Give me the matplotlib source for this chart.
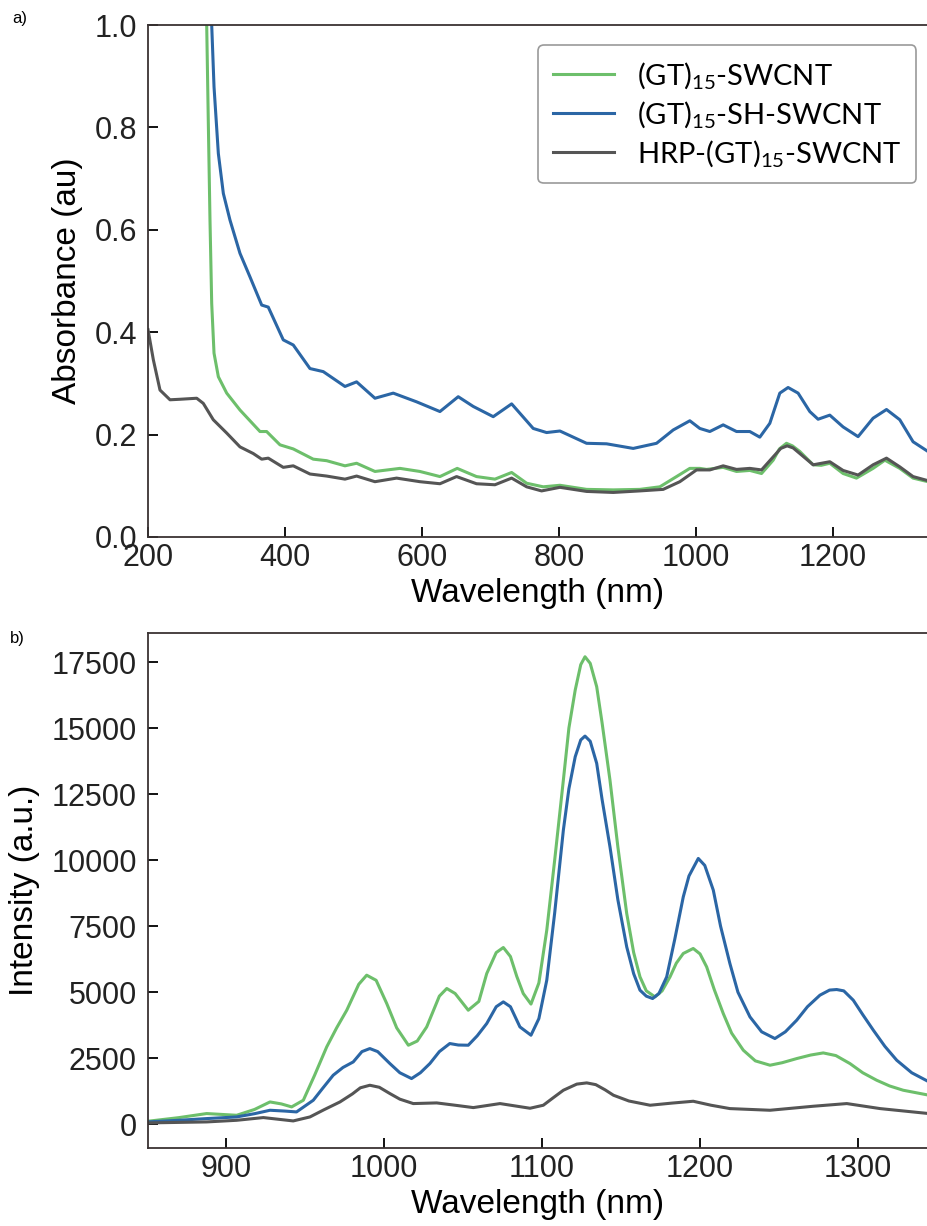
import matplotlib
matplotlib.use("Agg")
import matplotlib.pyplot as plt

plt.rcParams['font.family'] = ['Liberation Sans', 'DejaVu Sans']
plt.rcParams['mathtext.default'] = 'regular'

# ---- panel a: absorbance spectra (wavelength nm, absorbance au) ----
a_wl_green = [284, 285.7, 288, 290.5, 293, 296.4, 302.7, 314.9, 334.3, 363.5, 373.2, 392.7,
              412.1, 441.3, 460.9, 487.6, 504.6, 531.4, 567.9, 597, 626.3, 651.5, 679.7,
              706.6, 731, 752.9, 777.1, 801.5, 840.4, 879.3, 918.2, 947.4, 971.8, 991.2,
              1005.8, 1015.6, 1039.9, 1059.4, 1078.8, 1095.9, 1112.9, 1122, 1132.3, 1141,
              1151.8, 1171.3, 1183, 1195.6, 1215, 1234.5, 1258.8, 1276, 1297.8, 1317.2, 1339]
a_abs_green = [1.1, 1.0, 0.814, 0.619, 0.456, 0.359, 0.313, 0.281, 0.248, 0.206, 0.206, 0.180,
               0.172, 0.152, 0.149, 0.139, 0.144, 0.128, 0.134, 0.128, 0.118, 0.134, 0.118,
               0.113, 0.126, 0.105, 0.098, 0.101, 0.093, 0.092, 0.093, 0.098, 0.118, 0.134,
               0.134, 0.132, 0.136, 0.128, 0.130, 0.124, 0.150, 0.172, 0.183, 0.178,
               0.167, 0.141, 0.140, 0.144, 0.124, 0.115, 0.134, 0.150, 0.134, 0.115, 0.108]

a_wl_blue = [291, 293, 296.4, 302.7, 310, 319.7, 334.3, 348.9, 366, 375.6, 397.5, 412.1,
             436.5, 455.9, 487.6, 504.6, 531.4, 558.1, 592.2, 626.3, 653, 674.9, 704.1,
             731, 762.5, 782, 801.5, 840.4, 869.6, 908.5, 942.6, 966.9, 991.2, 1005.8,
             1020.4, 1039.9, 1059.4, 1078.8, 1093.4, 1108, 1122.6, 1134.7, 1149.3, 1166.4,
             1178.5, 1195.6, 1215, 1236.9, 1258.8, 1278.4, 1297.8, 1317.2, 1339]
a_abs_blue = [1.1, 1.0, 0.879, 0.749, 0.671, 0.619, 0.554, 0.508, 0.453, 0.449, 0.385, 0.375,
              0.329, 0.323, 0.294, 0.303, 0.271, 0.281, 0.264, 0.245, 0.274, 0.255, 0.235,
              0.260, 0.212, 0.204, 0.207, 0.183, 0.182, 0.173, 0.183, 0.209, 0.227, 0.212,
              0.206, 0.219, 0.206, 0.206, 0.195, 0.222, 0.281, 0.292, 0.281, 0.245,
              0.230, 0.238, 0.215, 0.196, 0.232, 0.249, 0.229, 0.186, 0.167]

a_wl_gray = [200, 207.8, 217.5, 232.1, 246.7, 271.1, 280.7, 295.3, 314.9, 334.3, 353.7, 366,
             375.6, 397.5, 412.1, 436.5, 460.9, 487.6, 504.6, 531.4, 563, 597.1, 626.3,
             650.6, 679.7, 706.6, 731, 752.9, 774.7, 801.5, 840.4, 879.3, 918.2, 952.3,
             976.6, 1001, 1020.4, 1039.9, 1059.4, 1078.8, 1095.9, 1115.3, 1124, 1133.3, 1142,
             1151.8, 1171.3, 1195.6, 1215, 1236.9, 1258.8, 1278.4, 1297.8, 1317.2, 1339]
a_abs_gray = [0.405, 0.346, 0.287, 0.268, 0.269, 0.271, 0.261, 0.229, 0.203, 0.176, 0.163, 0.152,
              0.154, 0.136, 0.139, 0.123, 0.119, 0.113, 0.119, 0.108, 0.115, 0.108, 0.104,
              0.118, 0.104, 0.102, 0.115, 0.098, 0.090, 0.097, 0.089, 0.087, 0.090, 0.093,
              0.108, 0.131, 0.131, 0.139, 0.132, 0.134, 0.131, 0.160, 0.173, 0.178, 0.174,
              0.163, 0.141, 0.147, 0.130, 0.121, 0.141, 0.154, 0.137, 0.118, 0.110]

# ---- panel b: emission spectra (wavelength nm, intensity a.u.) ----
b_wl_green = [850, 870, 887.7, 906.7, 918, 927.8, 935, 941.5, 948.9, 956, 963.7, 970, 976.4,
              984, 989, 995, 1001.7, 1008, 1015.4, 1021, 1027, 1035, 1039.7, 1045, 1053.3,
              1060, 1065, 1071, 1075.5, 1080, 1084, 1088.1, 1093, 1098, 1103, 1108, 1113.5,
              1117, 1121, 1124.5, 1127.2, 1130.5, 1134.6, 1138, 1143, 1148, 1153.6, 1158,
              1162, 1166, 1171.5, 1176, 1181, 1185, 1189.4, 1195.7, 1200, 1204.2, 1209,
              1214.7, 1220, 1227.4, 1235, 1244.3, 1252, 1261.2, 1270, 1278, 1286, 1294.9,
              1303, 1311.8, 1320, 1328.6, 1345]
b_int_green = [110, 250, 405, 340, 560, 845, 770, 657, 909, 1850, 2928, 3650, 4318,
               5300, 5644, 5450, 4571, 3650, 2992, 3150, 3686, 4850, 5140, 4950, 4318,
               4650, 5707, 6500, 6692, 6350, 5600, 4950, 4550, 5350, 7349, 10000, 13031,
               15000, 16440, 17400, 17700, 17450, 16565, 15200, 13031, 10500, 7980, 6500,
               5580, 5050, 4823, 5050, 5580, 6100, 6466, 6655, 6450, 5958, 5100,
               4193, 3450, 2803, 2400, 2235, 2330, 2487, 2620, 2701, 2600, 2298,
               1950, 1667, 1450, 1288, 1099]

b_wl_blue = [850, 870, 887.7, 906.7, 918, 927.8, 937, 944.6, 955.2, 961, 967.8, 974, 980.5,
             986, 991, 996, 1003.7, 1010, 1017.4, 1023, 1029, 1035, 1041.6, 1047, 1053.3,
             1059, 1065, 1071, 1075.5, 1080, 1086, 1093, 1098, 1103, 1108, 1113.5, 1117,
             1121, 1124.5, 1127.2, 1130.5, 1134.6, 1138, 1143, 1148, 1153.6, 1158, 1162,
             1166, 1170, 1174, 1178.9, 1184, 1189.4, 1193, 1198.9, 1203, 1208.4, 1213,
             1218.9, 1224, 1231.6, 1239, 1247.4, 1254, 1261.2, 1268, 1275.9, 1282, 1286.5,
             1291, 1297, 1303, 1309.7, 1317, 1324.5, 1334, 1345]
b_int_blue = [88, 150, 215, 277, 400, 530, 500, 467, 909, 1350, 1856, 2150, 2360,
              2750, 2866, 2750, 2298, 1950, 1730, 1950, 2298, 2750, 3056, 3000, 2992,
              3350, 3814, 4450, 4633, 4450, 3686, 3371, 4000, 5455, 8000, 11137, 12700,
              13914, 14550, 14697, 14500, 13664, 12300, 10504, 8500, 6716, 5700, 5076,
              4850, 4760, 4950, 5580, 7000, 8610, 9400, 10064, 9800, 8864, 7500,
              6087, 5000, 4066, 3500, 3245, 3500, 3940, 4450, 4887, 5080, 5101,
              5050, 4697, 4150, 3561, 2950, 2424, 1950, 1603]

b_wl_gray = [850, 887.7, 906.7, 923.6, 942.5, 953.1, 962, 972.1, 980, 985, 991, 997, 1003.7,
             1010, 1018.5, 1033.3, 1045, 1056.5, 1073.4, 1092.4, 1100.8, 1107, 1113.5, 1122,
             1128.3, 1134, 1140, 1145.2, 1155, 1168.4, 1182, 1195.7, 1207, 1218.9, 1244.3,
             1271.7, 1292.9, 1314, 1345]
b_int_gray = [50, 88, 150, 253, 126, 277, 550, 845, 1150, 1380, 1477, 1400, 1162,
              950, 783, 808, 720, 631, 783, 606, 720, 1000, 1288, 1520,
              1566, 1500, 1300, 1099, 880, 720, 800, 871, 720, 593, 530,
              682, 783, 593, 404]

labels = ['(GT)$_{15}$-SWCNT', '(GT)$_{15}$-SH-SWCNT', 'HRP-(GT)$_{15}$-SWCNT']
c_green = '#6dbf6b'
c_blue = '#2b66a5'
c_gray = '#555555'
spine_c = '#3a3333'

fig = plt.figure(figsize=(9.28, 12.26), dpi=100)
ax1 = fig.add_axes([0.1595, 0.5620, 0.8405, 0.4176])
ax2 = fig.add_axes([0.1595, 0.0636, 0.8405, 0.4201])

lw = 2.2
ax1.plot(a_wl_green, a_abs_green, color=c_green, lw=lw, label=labels[0])
ax1.plot(a_wl_blue, a_abs_blue, color=c_blue, lw=lw, label=labels[1])
ax1.plot(a_wl_gray, a_abs_gray, color=c_gray, lw=lw, label=labels[2])
ax1.set_xlim(200, 1339)
ax1.set_ylim(0, 1.0)
ax1.set_xticks([200, 400, 600, 800, 1000, 1200])
ax1.set_yticks([0.0, 0.2, 0.4, 0.6, 0.8, 1.0])
ax1.set_yticklabels(['0.0', '0.2', '0.4', '0.6', '0.8', '1.0'])
ax1.set_xlabel('Wavelength (nm)', fontsize=24, labelpad=4)
ax1.set_ylabel('Absorbance (au)', fontsize=24)
ax1.yaxis.set_label_coords(-0.083, 0.5)

ax2.plot(b_wl_green, b_int_green, color=c_green, lw=lw)
ax2.plot(b_wl_blue, b_int_blue, color=c_blue, lw=lw)
ax2.plot(b_wl_gray, b_int_gray, color=c_gray, lw=lw)
ax2.set_xlim(850.6, 1344.3)
ax2.set_ylim(-900, 18600)
ax2.set_xticks([900, 1000, 1100, 1200, 1300])
ax2.set_yticks([0, 2500, 5000, 7500, 10000, 12500, 15000, 17500])
ax2.set_xlabel('Wavelength (nm)', fontsize=24, labelpad=4)
ax2.set_ylabel('Intensity (a.u.)', fontsize=24)
ax2.yaxis.set_label_coords(-0.138, 0.5)

for ax in (ax1, ax2):
    ax.spines['right'].set_visible(False)
    for s in ('left', 'bottom', 'top'):
        ax.spines[s].set_color(spine_c)
        ax.spines[s].set_linewidth(1.3)
    ax.tick_params(direction='in', length=7, width=1.4, color='#111111',
                   labelsize=22, labelcolor='#222222', top=False, right=False)
    ax.tick_params(axis='x', pad=4)
    ax.tick_params(axis='y', pad=8)

leg = ax1.legend(loc='upper left', bbox_to_anchor=(0.5, 0.961), borderaxespad=0,
                 prop={'family': ['Lato', 'DejaVu Sans'], 'size': 21},
                 handlelength=2.1, handletextpad=0.8, labelspacing=0.28,
                 borderpad=0.5, frameon=True, fancybox=True,
                 edgecolor='#9a9a9a', framealpha=1)
leg.get_frame().set_linewidth(1.2)

fig.text(12 / 928, 1 - 18 / 1226, 'a)', fontsize=12, va='center', ha='left')
fig.text(10 / 928, 1 - 638 / 1226, 'b)', fontsize=12, va='center', ha='left')

fig.savefig('out.png', dpi=100)
